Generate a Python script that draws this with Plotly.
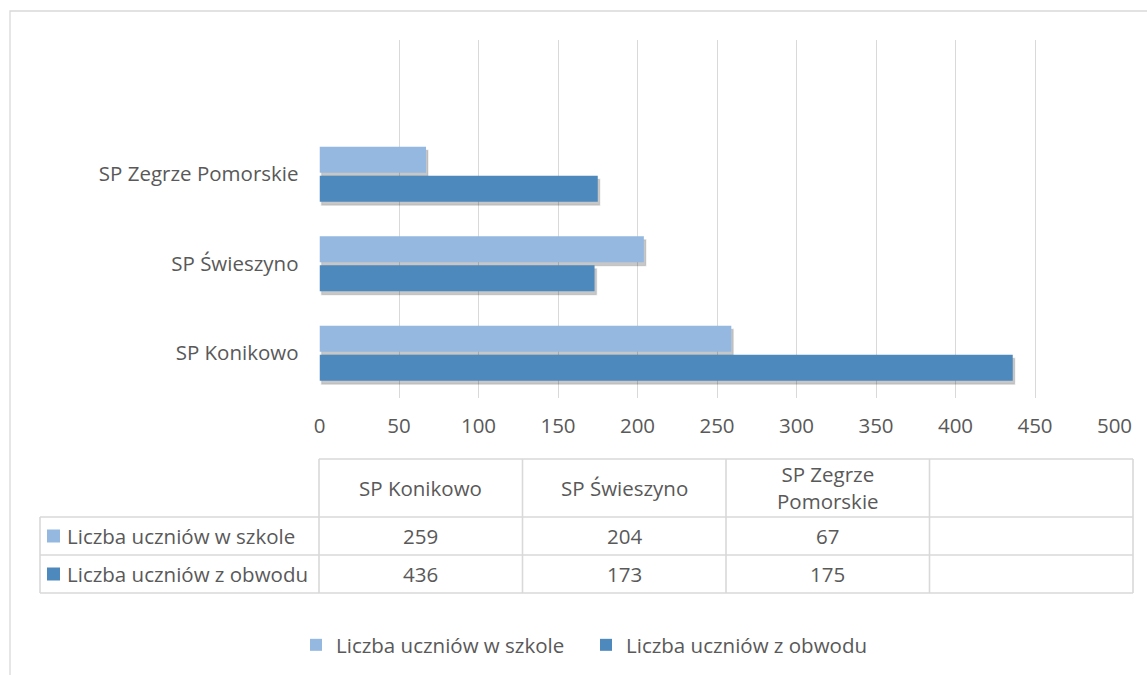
import plotly.graph_objects as go

# ---- data ----
categories = ["SP Konikowo", "SP Świeszyno", "SP Zegrze Pomorskie"]
table_headers = ["SP Konikowo", "SP Świeszyno", "SP Zegrze<br>Pomorskie", ""]
series_names = ["Liczba uczniów w szkole", "Liczba uczniów z obwodu"]
w_szkole = [259, 204, 67]
z_obwodu = [436, 173, 175]
x_ticks = [0, 50, 100, 150, 200, 250, 300, 350, 400, 450, 500]

# ---- style ----
W, H = 1147, 675
C_LIGHT = "#95B8E0"
C_DARK = "#4E89BD"
GRID = "#D9D9D9"
TXT = "#595959"
FONT = "Open Sans"
FS = 20.5

def px(x):
    return x / W

def py(y):
    return 1 - y / H

X0, X1 = 319.5, 1114.5
Y0, Y1 = 40, 398
xdom = [px(X0), px(X1)]
ydom = [py(Y1), py(Y0)]
XMAX = 500
YR = [-0.5, 3.5]
kx = XMAX / (X1 - X0)
ky = (YR[1] - YR[0]) / (Y1 - Y0)
sdx, sdy = 2.0, 3.5  # shadow offset in px

fig = go.Figure()

# shadows (drawn on the base axes, shifted range)
for vals in (z_obwodu, w_szkole):
    fig.add_trace(go.Bar(
        x=vals, y=categories, orientation="h",
        marker=dict(color="rgba(0,0,0,0.22)", line=dict(width=1.5, color="rgba(0,0,0,0.08)")),
        showlegend=False, hoverinfo="skip", xaxis="x", yaxis="y"))

# real bars
fig.add_trace(go.Bar(
    x=z_obwodu, y=categories, orientation="h", name=series_names[1],
    marker=dict(color=C_DARK, line=dict(width=0)), legendrank=2,
    xaxis="x2", yaxis="y2"))
fig.add_trace(go.Bar(
    x=w_szkole, y=categories, orientation="h", name=series_names[0],
    marker=dict(color=C_LIGHT, line=dict(width=0)), legendrank=1,
    xaxis="x2", yaxis="y2"))

fig.update_layout(
    width=W, height=H, autosize=False,
    margin=dict(l=0, r=0, t=0, b=0, pad=0, autoexpand=False),
    paper_bgcolor="white", plot_bgcolor="rgba(0,0,0,0)",
    font=dict(family=FONT, size=FS, color=TXT),
    barmode="group", bargap=0.352, bargroupgap=0.1,
    xaxis=dict(domain=xdom, range=[-sdx * kx, XMAX - sdx * kx], automargin=False,
               showgrid=False, showticklabels=False, zeroline=False, showline=False),
    yaxis=dict(domain=ydom, range=[YR[0] + sdy * ky, YR[1] + sdy * ky], automargin=False,
               type="category", categoryorder="array", categoryarray=categories,
               showgrid=False, showticklabels=False, zeroline=False, showline=False),
    xaxis2=dict(domain=xdom, range=[0, XMAX], overlaying="x", anchor="y2", automargin=False,
                tickvals=x_ticks, showgrid=True, gridcolor=GRID, gridwidth=1.3,
                zeroline=False, showline=False, ticks="",
                ticklabelstandoff=13, tickfont=dict(size=FS, color=TXT)),
    yaxis2=dict(domain=ydom, range=YR, overlaying="y", anchor="x2", automargin=False,
                type="category", categoryorder="array", categoryarray=categories,
                showgrid=False, zeroline=False, showline=False, ticks="",
                ticklabelstandoff=20, tickfont=dict(size=FS, color=TXT)),
    legend=dict(orientation="h", x=px(296), y=py(645), xanchor="left", yanchor="middle",
                font=dict(size=FS, color=TXT), bgcolor="rgba(0,0,0,0)",
                entrywidth=245, entrywidthmode="pixels", traceorder="normal",
                borderwidth=0),
    showlegend=True,
)

shapes = []
# outer chart border
shapes.append(dict(type="rect", xref="paper", yref="paper",
                   x0=px(10), y0=py(H + 20), x1=px(W + 20), y1=py(11),
                   line=dict(color=GRID, width=1.3), fillcolor="rgba(0,0,0,0)"))

# data table grid
col_x = [319, 522.5, 726, 929.5, 1133]
row_y = [459, 517, 555, 593]
TL = 40
def hline(x0, x1, y):
    shapes.append(dict(type="line", xref="paper", yref="paper",
                       x0=px(x0), x1=px(x1), y0=py(y), y1=py(y),
                       line=dict(color=GRID, width=1.6)))
def vline(x, y0, y1):
    shapes.append(dict(type="line", xref="paper", yref="paper",
                       x0=px(x), x1=px(x), y0=py(y0), y1=py(y1),
                       line=dict(color=GRID, width=1.6)))

hline(col_x[0], col_x[-1], row_y[0])
for y in row_y[1:]:
    hline(TL, col_x[-1], y)
for x in col_x:
    vline(x, row_y[0], row_y[-1])
vline(TL, row_y[1], row_y[-1])

annotations = []
# header texts
for i, h in enumerate(table_headers):
    if h:
        annotations.append(dict(xref="paper", yref="paper",
                                x=px((col_x[i] + col_x[i + 1]) / 2), y=py((row_y[0] + row_y[1]) / 2),
                                text=h, showarrow=False, xanchor="center", yanchor="middle",
                                font=dict(size=FS, color=TXT)))
# rows
rows = [(series_names[0], C_LIGHT, w_szkole), (series_names[1], C_DARK, z_obwodu)]
for r, (name, col, vals) in enumerate(rows):
    yc = (row_y[r + 1] + row_y[r + 2]) / 2
    shapes.append(dict(type="rect", xref="paper", yref="paper",
                       x0=px(47), x1=px(60), y0=py(yc - 6.5), y1=py(yc + 6.5),
                       fillcolor=col, line=dict(width=0)))
    annotations.append(dict(xref="paper", yref="paper", x=px(65), y=py(yc),
                            text=name, showarrow=False, xanchor="left", yanchor="middle",
                            font=dict(size=FS, color=TXT)))
    for i, v in enumerate(vals):
        annotations.append(dict(xref="paper", yref="paper",
                                x=px((col_x[i] + col_x[i + 1]) / 2), y=py(yc),
                                text=str(v), showarrow=False, xanchor="center", yanchor="middle",
                                font=dict(size=FS, color=TXT)))

fig.update_layout(shapes=shapes, annotations=annotations)
fig.write_html("out.html", config={"displayModeBar": False},
               post_script="document.body.style.margin='0';document.body.style.overflow='hidden';")
